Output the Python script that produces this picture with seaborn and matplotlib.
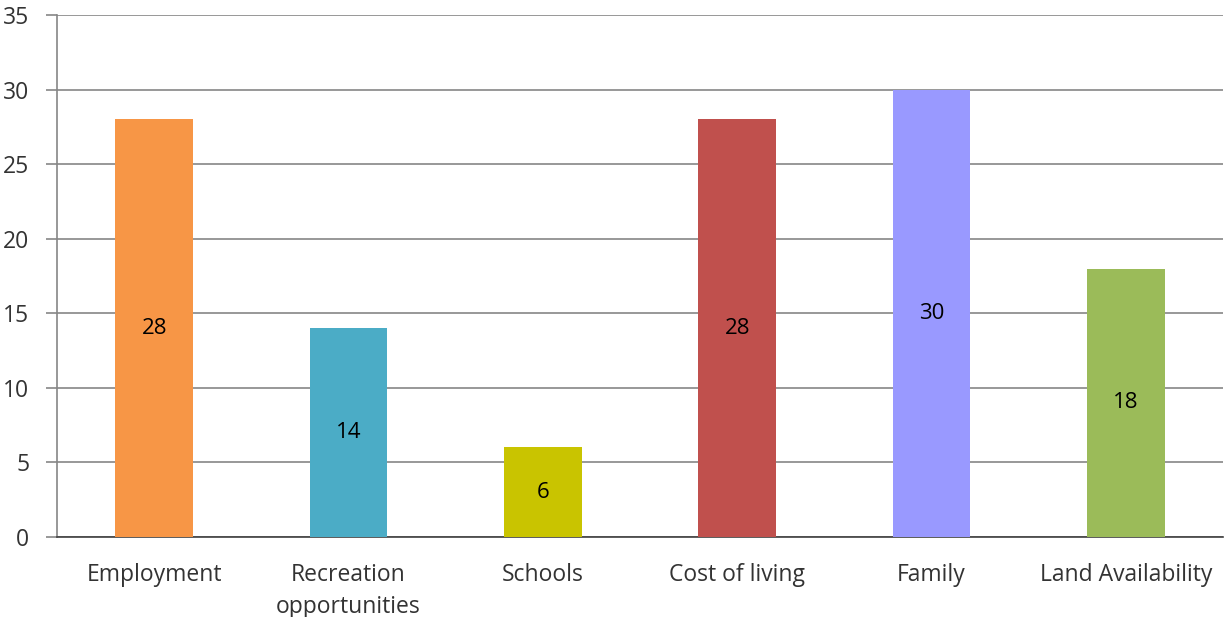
import matplotlib
matplotlib.use("Agg")
import matplotlib.pyplot as plt
import seaborn as sns
import pandas as pd

categories = ["Employment", "Recreation\nopportunities", "Schools", "Cost of living", "Family", "Land Availability"]
values = [28, 14, 6, 28, 30, 18]
colors = ["#F79646", "#4BACC6", "#C9C400", "#C0504D", "#9999FF", "#9BBB59"]
yticks = [0, 5, 10, 15, 20, 25, 30, 35]

sns.set_theme(style="white")
plt.rcParams["font.family"] = ["Open Sans", "DejaVu Sans"]

df = pd.DataFrame({"category": categories, "value": values})

fig = plt.figure(figsize=(12.27, 6.17), dpi=100)
ax = fig.add_axes([0.0465, 0.1297, 0.9502, 0.846])

sns.barplot(data=df, x="category", y="value", hue="category", palette=colors,
            width=0.4, saturation=1, legend=False, ax=ax, zorder=3, linewidth=0)

for p, v in zip(ax.patches, values):
    ax.text(p.get_x() + p.get_width() / 2, v / 2, f"{v}", ha="center", va="center",
            fontsize=16, color="black", zorder=4)

ax.set_ylim(0, 35)
ax.set_xlim(-0.5, len(categories) - 0.5)
ax.set_yticks(yticks)
ax.set_yticklabels([str(t) for t in yticks])
ax.yaxis.grid(True, color="#868686", linewidth=1.2, zorder=0)
ax.set_axisbelow(True)
ax.set_xlabel("")
ax.set_ylabel("")

# x ticks sit at the boundaries between categories
ax.set_xticks([i + 0.5 for i in range(-1, len(categories))], minor=True)
ax.tick_params(axis="x", which="major", length=0, labelsize=16.5, colors="#333333", pad=19)
ax.tick_params(axis="x", which="minor", length=8, width=1.2, color="#868686", direction="out")
ax.tick_params(axis="y", length=8, width=1.2, color="#868686", labelsize=16.5, labelcolor="#333333", pad=12, left=True)
for lbl in ax.get_xticklabels():
    lbl.set_linespacing(1.4)

for s in ["top", "right"]:
    ax.spines[s].set_visible(False)
for s in ["left", "bottom"]:
    ax.spines[s].set_color("#868686")
    ax.spines[s].set_linewidth(1.2)
ax.spines["bottom"].set_color("#404040")

fig.savefig("out.png", dpi=100)
